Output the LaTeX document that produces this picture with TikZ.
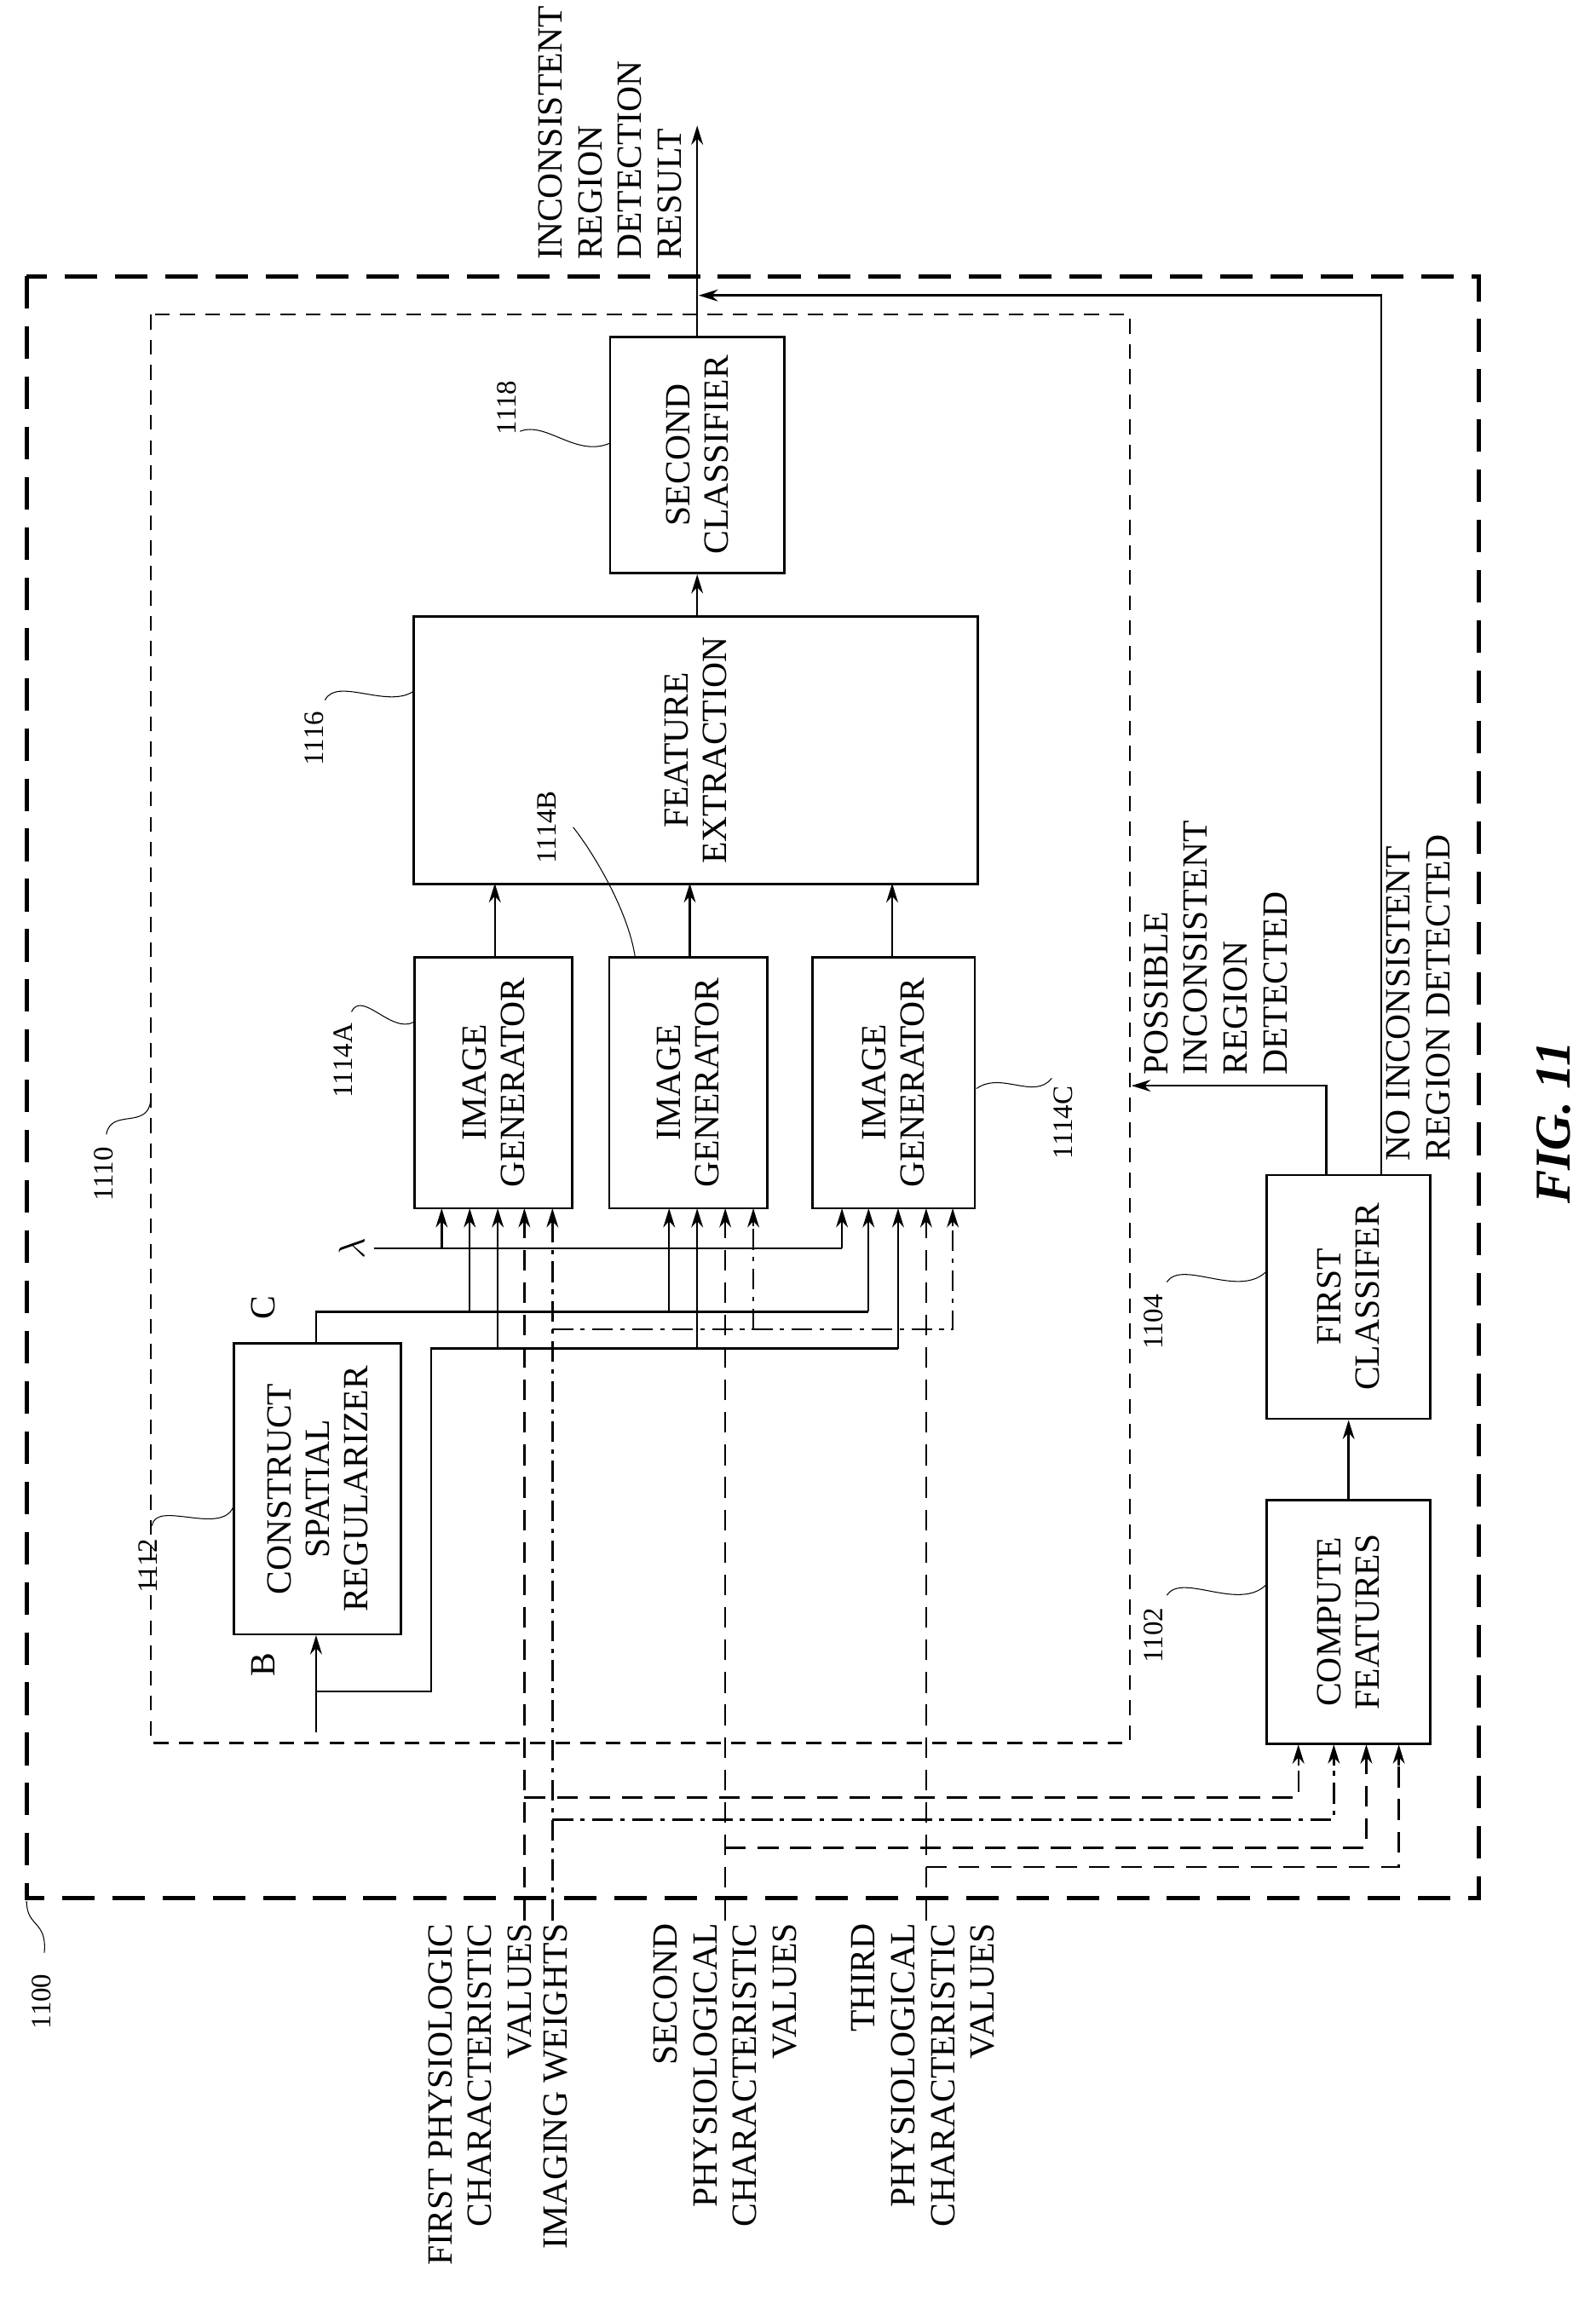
\documentclass[tikz,border=0pt]{standalone}
\usepackage{fontspec}
\setmainfont{Liberation Serif}
\usetikzlibrary{arrows.meta}
\begin{document}
\begin{tikzpicture}[x=1pt,y=-1pt,
  box/.style={draw,line width=1.6pt,rotate=90,align=center,font=\fontsize{24}{26}\selectfont,inner sep=0pt},
  lbl/.style={rotate=90,font=\fontsize{24}{27}\selectfont,inner sep=0pt},
  num/.style={rotate=90,font=\fontsize{19}{22}\selectfont,inner sep=1pt},
  ld/.style={line width=0.6pt},
  ln/.style={line width=1.4pt},
  arr/.style={ln,-{Stealth[length=13pt,width=8pt]}},
  dsh/.style={line width=1.4pt,dash pattern=on 14pt off 8pt},
  dd/.style={line width=1.4pt,dash pattern=on 14pt off 5pt on 3pt off 5pt}]
\useasboundingbox (0,0) rectangle (1080,1572);
\fill[white] (0,0) rectangle (1080,1572);
% frames
\draw[line width=2.8pt,dash pattern=on 22pt off 12pt] (18,187) rectangle (1001,1285);
\draw[line width=1.2pt,dash pattern=on 10pt off 7pt] (102,213) rectangle (765,1180);
% boxes (rotated: width is vertical extent)
\node[box,minimum width=160pt,minimum height=118pt] (sc) at (472,308) {SECOND\\CLASSIFIER};
\node[box,minimum width=181pt,minimum height=382pt] (fe) at (471,508) {FEATURE\\EXTRACTION};
\node[box,minimum width=170pt,minimum height=107pt] (ga) at (334,733) {IMAGE\\GENERATOR};
\node[box,minimum width=170pt,minimum height=107pt] (gb) at (466,733) {IMAGE\\GENERATOR};
\node[box,minimum width=170pt,minimum height=110pt] (gc) at (605,733) {IMAGE\\GENERATOR};
\node[box,minimum width=197pt,minimum height=113pt] (reg) at (215,1008) {CONSTRUCT\\SPATIAL\\REGULARIZER};
\node[box,minimum width=165pt,minimum height=111pt] (cf) at (913,1098) {COMPUTE\\FEATURES};
\node[box,minimum width=165pt,minimum height=111pt] (fc) at (913,878) {FIRST\\CLASSIFER};
% main arrows
\draw[arr] (ga.west -| 335,0) ++(0,0) (335,648) -- (335,598);
\draw[arr] (467,648) -- (467,598);
\draw[arr] (604,648) -- (604,598);
\draw[arr] (fe.east -| sc) -- (sc.west);
\coordinate (out) at (472,85);
\draw[arr] (sc.east) -- (out);
\draw[arr] (cf.east) -- (fc.west);
\coordinate (pfb) at (898,735);
\coordinate (pend) at (766,735);
\draw[arr] (898,796) -- (pfb) -- (pend);
\coordinate (nb) at (935,200);
\draw[arr] (935,796) -- (nb) -- (473,200);
% regularizer inputs/outputs
\coordinate (bin) at (214,1173);
\draw[arr] (bin) -- (214,1107);
\draw[ln] (214,1145) -- (292,1145) -- (292,913) -- (608,913);
\draw[ln] (214,910) -- (214,888) -- (588,888);
\draw[ln] (253,845) -- (570,845);
\node[font=\fontsize{24}{24}\selectfont,rotate=90] (lam) at (238,845) {$\lambda$};
\node[lbl] (B) at (178,1127) {B};
\node[lbl] (C) at (178,885) {C};
% generator input arrows
\foreach \x/\y in {299/845,318/888,337/913,453/888,472/913,570/845,588/888,608/913}
  \draw[arr] (\x,\y) -- (\x,818);
\draw[dsh] (355,1300) -- (355,830);
\draw[arr] (355,830) -- (355,818);
\draw[dsh] (491,1300) -- (491,830);
\draw[arr] (491,830) -- (491,818);
\draw[dsh] (627,1300) -- (627,830);
\draw[arr] (627,830) -- (627,818);
\draw[dd] (374,1300) -- (374,830);
\draw[arr] (374,830) -- (374,818);
\draw[dd] (374,900) -- (645,900) -- (645,830);
\draw[arr] (645,830) -- (645,818);
\draw[dd] (510,900) -- (510,830);
\draw[arr] (510,830) -- (510,818);
% compute feature inputs
\draw[dsh] (355,1217) -- (879,1217) -- (879,1195);
\draw[arr] (879,1195) -- (879,1181);
\draw[dd] (374,1232) -- (903,1232) -- (903,1195);
\draw[arr] (903,1195) -- (903,1181);
\draw[dsh] (491,1251) -- (925,1251) -- (925,1195);
\draw[arr] (925,1195) -- (925,1181);
\draw[dsh] (627,1264) -- (947,1264) -- (947,1195);
\draw[arr] (947,1195) -- (947,1181);
% text labels
\node[lbl,anchor=west,align=left] (t1) at (413,176) {INCONSISTENT\\REGION\\DETECTION\\RESULT};
\node[lbl,anchor=west,align=left] (t2) at (823,728) {POSSIBLE\\INCONSISTENT\\REGION\\DETECTED};
\node[lbl,anchor=west,align=left] (t3) at (960,786) {NO INCONSISTENT\\REGION DETECTED};
\node[lbl,anchor=east,align=right] (t4) at (325,1302) {FIRST PHYSIOLOGIC\\CHARACTERISTIC\\VALUES};
\node[lbl,anchor=east,align=right] (t5) at (376,1302) {IMAGING WEIGHTS};
\node[lbl,anchor=east,align=right] (t6) at (491,1302) {SECOND\\PHYSIOLOGICAL\\CHARACTERISTIC\\VALUES};
\node[lbl,anchor=east,align=right] (t7) at (625,1302) {THIRD\\PHYSIOLOGICAL\\CHARACTERISTIC\\VALUES};
\node[rotate=90,font=\fontsize{34}{34}\selectfont\bfseries\itshape] (fig) at (1052,760) {FIG. 11};
% reference numbers
\node[num] (n1100) at (28,1355) {1100};
\draw[ld] (30,1322) .. controls (32,1300) and (18,1305) .. (18,1287);
\node[num] (n1110) at (70,795) {1110};
\draw[ld] (72,768) .. controls (75,750) and (100,765) .. (102,745);
\node[num] (n1112) at (100,1060) {1112};
\draw[ld] (103,1033) .. controls (105,1015) and (150,1040) .. (158,1020);
\node[num] (n1114A) at (232,718) {1114A};
\draw[ld] (238,685) .. controls (245,670) and (265,700) .. (280,692);
\node[num] (n1116) at (213,500) {1116};
\draw[ld] (220,474) .. controls (228,458) and (262,480) .. (280,468);
\node[num] (n1114B) at (370,560) {1114B};
\draw[ld] (388,560) .. controls (400,575) and (425,615) .. (430,648);
\node[num] (n1118) at (343,276) {1118};
\draw[ld] (352,292) .. controls (370,285) and (390,310) .. (413,300);
\node[num] (n1114C) at (720,760) {1114C};
\draw[ld] (712,730) .. controls (700,745) and (678,725) .. (661,737);
\node[num] (n1104) at (781,895) {1104};
\draw[ld] (790,868) .. controls (800,852) and (840,880) .. (858,860);
\node[num] (n1102) at (781,1107) {1102};
\draw[ld] (790,1080) .. controls (800,1064) and (840,1092) .. (858,1072);
\end{tikzpicture}
\end{document}
